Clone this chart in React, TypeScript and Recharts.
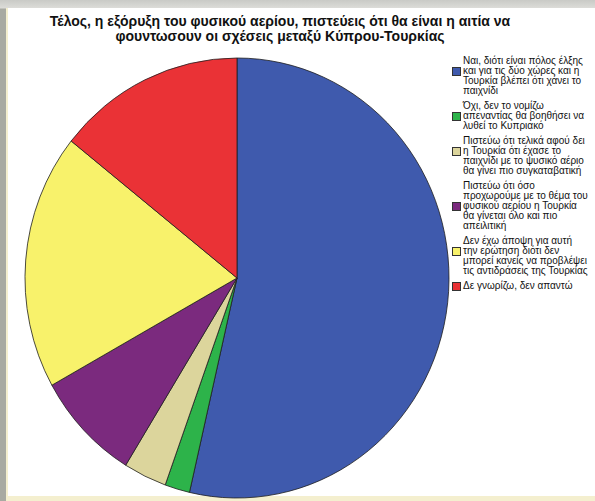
import React from "react";
import { PieChart, Pie, Cell, Legend } from "recharts";

const titleLines = [
  "Τέλος, η εξόρυξη του φυσικού αερίου, πιστεύεις ότι θα είναι η αιτία να",
  "φουντωσουν οι σχέσεις μεταξύ Κύπρου-Τουρκίας",
];

const categories = [
  "Ναι, διότι είναι πόλος έλξης και για τις δύο χώρες και η Τουρκία βλέπει ότι χάνει το παιχνίδι",
  "Όχι, δεν το νομίζω απεναντίας θα βοηθήσει να λυθεί το Κυπριακό",
  "Πιστεύω ότι τελικά αφού δει η Τουρκία ότι έχασε το παιχνίδι με το ψυσικό αέριο θα γίνει πιο συγκαταβατική",
  "Πιστεύω ότι όσο προχωρούμε με το θέμα του φυσικού αερίου η Τουρκία θα γίνεται όλο και πιο απειλιτική",
  "Δεν έχω άποψη για αυτή την ερώτηση διότι δεν μπορεί κανείς να προβλέψει τις αντιδράσεις της Τουρκίας",
  "Δε γνωρίζω, δεν απαντώ",
];

// legend text wrapped as in the original
const legendLines = [
  ["Ναι, διότι είναι πόλος έλξης", "και για τις δύο χώρες και η", "Τουρκία βλέπει ότι χάνει το", "παιχνίδι"],
  ["Όχι, δεν το νομίζω", "απεναντίας θα βοηθήσει να", "λυθεί το Κυπριακό"],
  ["Πιστεύω ότι τελικά αφού δει", "η Τουρκία ότι έχασε το", "παιχνίδι με το ψυσικό αέριο", "θα γίνει πιο συγκαταβατική"],
  ["Πιστεύω ότι όσο", "προχωρούμε με το θέμα του", "φυσικού αερίου η Τουρκία", "θα γίνεται όλο και πιο", "απειλιτική"],
  ["Δεν έχω άποψη για αυτή", "την ερώτηση διότι δεν", "μπορεί κανείς να προβλέψει", "τις αντιδράσεις της Τουρκίας"],
  ["Δε γνωρίζω, δεν απαντώ"],
];

const percents = [53.6, 1.9, 3.3, 8.1, 18.8, 14.3];

const colors = ["#3f5aad", "#2db34a", "#dcd59c", "#7b2a7e", "#f8f26b", "#ea3236"];

const data = categories.map((name, i) => ({ name, value: percents[i] }));

const RY_SCALE = 220 / 212;

// sector drawn slightly taller than wide, like the stretched SPSS picture
function EllipseSector(props: any) {
  const { cx, cy, outerRadius, startAngle, endAngle, fill, stroke } = props;
  const rx = outerRadius;
  const ry = outerRadius * RY_SCALE;
  const rad = Math.PI / 180;
  const x1 = cx + rx * Math.cos(startAngle * rad);
  const y1 = cy - ry * Math.sin(startAngle * rad);
  const x2 = cx + rx * Math.cos(endAngle * rad);
  const y2 = cy - ry * Math.sin(endAngle * rad);
  const large = Math.abs(endAngle - startAngle) > 180 ? 1 : 0;
  const sweep = startAngle > endAngle ? 1 : 0;
  const d = `M ${cx},${cy} L ${x1},${y1} A ${rx},${ry} 0 ${large} ${sweep} ${x2},${y2} Z`;
  return <path d={d} fill={fill} stroke={stroke} strokeWidth={0.8} strokeLinejoin="round" />;
}

function LegendBox(props: any) {
  const { payload } = props;
  return (
    <div style={{ fontFamily: "Arial, 'Liberation Sans', sans-serif", fontSize: 10, lineHeight: "10px", color: "#111" }}>
      {(payload || []).map((p: any, i: number) => {
        const lines = legendLines[i];
        const swatchLine = lines.length > 2 ? Math.floor((lines.length - 1) / 2) : lines.length - 1;
        return (
          <div key={i} style={{ position: "relative", paddingLeft: 11, marginBottom: 5, whiteSpace: "nowrap" }}>
            <span
              style={{
                position: "absolute",
                left: 0,
                top: swatchLine * 10 + 1,
                width: 7,
                height: 7,
                background: colors[i],
                border: "1px solid #333",
              }}
            />
            {lines.map((l, j) => (
              <div key={j}>{l}</div>
            ))}
          </div>
        );
      })}
    </div>
  );
}

export default function App() {
  return (
    <div
      style={{
        position: "absolute",
        left: 0,
        top: 0,
        width: 595,
        height: 501,
        overflow: "hidden",
        background: "linear-gradient(#c9cac6, #dcdcd8 8px, #a8aaa2 9px)",
      }}
    >
      <div style={{ position: "absolute", left: 6, top: 8, right: 0, bottom: 0, background: "#f4efcf" }} />
      <div style={{ position: "absolute", left: 8, top: 8, right: 0, bottom: 5, background: "#ffffff" }} />
      <div
        style={{
          position: "absolute",
          left: 0,
          top: 14,
          width: 560,
          textAlign: "center",
          fontFamily: "Arial, 'Liberation Sans', sans-serif",
          fontWeight: "bold",
          fontSize: 14,
          lineHeight: "15px",
          color: "#111",
        }}
      >
        {titleLines.map((t, i) => (
          <div key={i}>{t}</div>
        ))}
      </div>
      <div style={{ position: "absolute", left: 0, top: 0 }}>
        <PieChart width={595} height={501}>
          <Pie
            data={data}
            dataKey="value"
            nameKey="name"
            cx={232}
            cy={273}
            outerRadius={212}
            startAngle={90}
            endAngle={-270}
            stroke="#1e1e1e"
            shape={EllipseSector}
            isAnimationActive={false}
          >
            {data.map((d, i) => (
              <Cell key={d.name} fill={colors[i]} />
            ))}
          </Pie>
          <Legend
            layout="vertical"
            align="right"
            verticalAlign="top"
            content={<LegendBox />}
            wrapperStyle={{ position: "absolute", left: 452, top: 56, width: 160 }}
          />
        </PieChart>
      </div>
    </div>
  );
}
